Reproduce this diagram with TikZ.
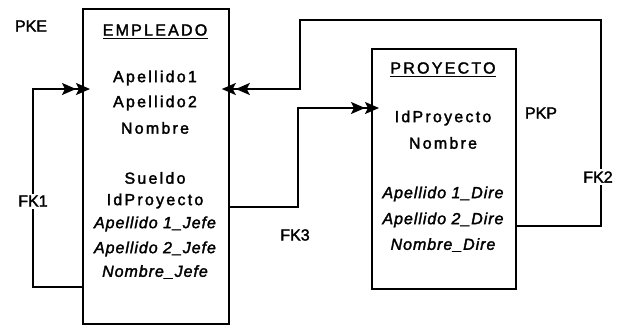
\documentclass[tikz,border=0pt]{standalone}
\usepackage{fontspec}
\setmainfont{Liberation Sans}
\usetikzlibrary{arrows.meta}
\newfontfamily\spaced[LetterSpace=14,FakeBold=2]{Liberation Sans}
\newfontfamily\spacedit[LetterSpace=6,FakeBold=2]{Liberation Sans Italic}
\newfontfamily\lblfont[FakeBold=2]{Liberation Sans}
\begin{document}
\begin{tikzpicture}[x=1pt,y=-1pt,
  box/.style={draw,line width=1.8pt,inner sep=0pt,anchor=north west},
  fld/.style={font=\spaced\fontsize{16}{18}\selectfont,inner sep=0pt},
  ifld/.style={font=\spacedit\fontsize{16}{18}\selectfont,inner sep=0pt},
  ttl/.style={font=\spaced\fontsize{16}{18}\selectfont,inner sep=0pt},
  lbl/.style={font=\lblfont\fontsize{16}{18}\selectfont,inner sep=2pt},
  conn/.style={line width=1.8pt},
  arr/.style={conn,-{Stealth[length=14pt,width=12pt,inset=3pt]Stealth[length=14pt,width=12pt,inset=3pt,sep=-8pt]}}]
\useasboundingbox (0,0) rectangle (620,327);
% boxes
\node[box,minimum width=146pt,minimum height=315pt] (emp) at (82,8) {};
\node[box,minimum width=144pt,minimum height=240pt] (proy) at (371,48) {};
% EMPLEADO contents
\node[ttl] (empt) at (155,30) {EMPLEADO};
\draw[line width=1.6pt] ([yshift=-2.5pt]empt.south west) -- ([yshift=-2.5pt]empt.south east);
\node[fld] (e1) at (155,78) {Apellido1};
\node[fld] (e2) at (155,103) {Apellido2};
\node[fld] (e3) at (155,128) {Nombre};
\node[fld] (e4) at (155,178) {Sueldo};
\node[fld] (e5) at (155,201) {IdProyecto};
\node[ifld] (e6) at (155,224) {Apellido 1\_Jefe};
\node[ifld] (e7) at (155,249) {Apellido 2\_Jefe};
\node[ifld] (e8) at (155,272) {Nombre\_Jefe};
% PROYECTO contents
\node[ttl] (pt) at (443,68) {PROYECTO};
\draw[line width=1.6pt] ([yshift=-2.5pt]pt.south west) -- ([yshift=-2.5pt]pt.south east);
\node[fld] (p1) at (443,118) {IdProyecto};
\node[fld] (p2) at (443,143) {Nombre};
\node[ifld] (p3) at (443,194) {Apellido 1\_Dire};
\node[ifld] (p4) at (443,220) {Apellido 2\_Dire};
\node[ifld] (p5) at (443,245) {Nombre\_Dire};
% labels
\node[lbl] (pke) at (31,26) {PKE};
\node[lbl] (pkp) at (541,113) {PKP};
\node[lbl] (fk3) at (295,235) {FK3};
% FK1
\coordinate (f1a) at (33,287);
\coordinate (f1b) at (33,89);
\draw[arr] (emp.west |- f1a) -- (f1a) -- (f1b) -- (emp.west |- f1b);
\node[lbl,fill=white] (fk1) at (33,201) {FK1};
% FK2
\coordinate (f2a) at (601,226);
\coordinate (f2b) at (601,20);
\coordinate (f2c) at (300,20);
\coordinate (f2d) at (300,89);
\draw[arr] (proy.east |- f2a) -- (f2a) -- (f2b) -- (f2c) -- (f2d) -- (emp.east |- f2d);
\node[lbl,fill=white] (fk2) at (598,177) {FK2};
% FK3
\coordinate (f3a) at (298,207);
\coordinate (f3b) at (298,108);
\draw[arr] (emp.east |- f3a) -- (f3a) -- (f3b) -- (proy.west |- f3b);
\end{tikzpicture}
\end{document}
